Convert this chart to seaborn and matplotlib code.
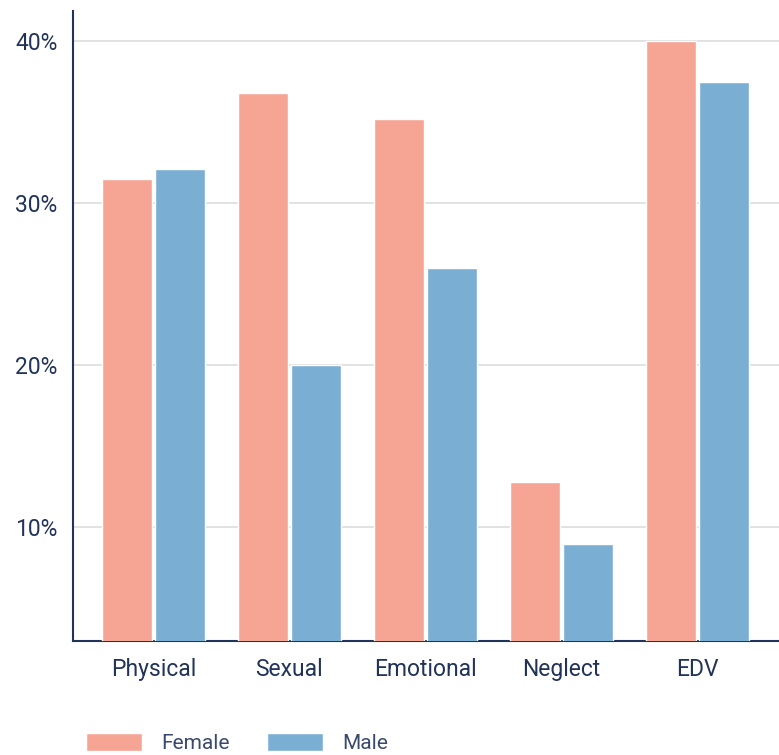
import pandas as pd
import seaborn as sns
import matplotlib.pyplot as plt
from matplotlib.ticker import FuncFormatter

# values (percent)
categories = ["Physical", "Sexual", "Emotional", "Neglect", "EDV"]
female = [31.5, 36.8, 35.2, 12.8, 40.0]
male = [32.1, 20.0, 26.0, 9.0, 37.5]

df = pd.DataFrame({
    "type": categories * 2,
    "sex": ["Female"] * len(categories) + ["Male"] * len(categories),
    "value": female + male,
})

sns.set_style("white")
plt.rcParams["font.family"] = ["Roboto", "DejaVu Sans"]
navy = "#22335A"

fig = plt.figure(figsize=(7.79, 7.55), dpi=100)
ax = fig.add_axes([73 / 779, 1 - 641 / 755, 1 - 73 / 779, (641 - 11) / 755])

sns.barplot(data=df, x="type", y="value", hue="sex",
            palette={"Female": "#F6A595", "Male": "#7AAFD3"},
            saturation=1, width=0.772, gap=0.048, ax=ax, zorder=3)

ax.set_ylim(3, 41.85)
ax.set_xlim(-0.59, 4.6)
ax.set_yticks([10, 20, 30, 40])
ax.yaxis.set_major_formatter(FuncFormatter(lambda v, p: f"{v:.0f}%"))
ax.grid(axis="y", color="#DDDDDD", linewidth=1.2, zorder=0)
ax.set_axisbelow(True)
ax.set_xlabel("")
ax.set_ylabel("")

for s in ["top", "right"]:
    ax.spines[s].set_visible(False)
for s in ["left", "bottom"]:
    ax.spines[s].set_color(navy)
    ax.spines[s].set_linewidth(1.5)

ax.tick_params(axis="both", length=0, labelsize=16.5, colors=navy)
ax.tick_params(axis="x", pad=12)
ax.tick_params(axis="y", pad=11)

handles, labels = ax.get_legend_handles_labels()
ax.get_legend().remove()
leg = fig.legend(handles, labels, loc="center left",
                 bbox_to_anchor=(86 / 779, 12 / 755), ncol=2, frameon=False,
                 fontsize=15, handlelength=2.7, handleheight=1.0,
                 handletextpad=0.9, columnspacing=1.8,
                 borderpad=0, borderaxespad=0)
for t in leg.get_texts():
    t.set_color("#3A4A6E")

fig.savefig("out.png", dpi=100)
